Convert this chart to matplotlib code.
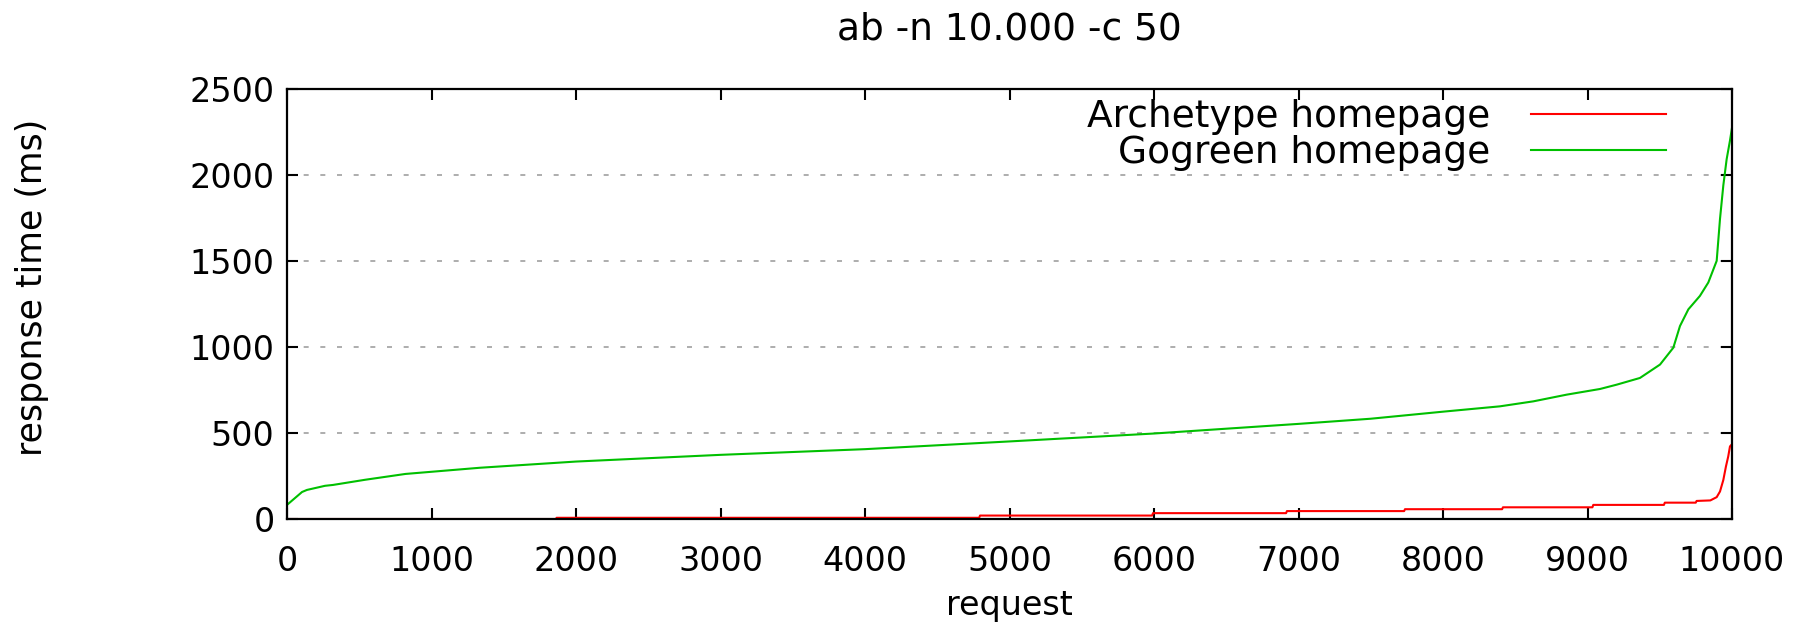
import matplotlib

matplotlib.use("Agg")
import matplotlib.pyplot as plt  # type: ignore

# Sorted response times (request index, ms)
gogreen_req = [0, 104, 138, 263, 318, 540, 820, 1336, 2000, 3000, 4000, 5000,
               6000, 6500, 7000, 7500, 8000, 8394, 8625, 8856, 9087, 9202,
               9363, 9502, 9594, 9640, 9698, 9778, 9836, 9894, 9917, 9940,
               9963, 9986, 10000]
gogreen_ms = [82, 157, 169, 193, 198, 228, 262, 298, 334, 373, 406, 451,
              497, 525, 553, 583, 624, 655, 684, 723, 756, 781,
              820, 898, 996, 1122, 1219, 1297, 1375, 1501, 1745, 1940,
              2092, 2200, 2275]

archetype_req = [0, 1860, 1866, 4790, 4796, 5987, 5993, 6914, 6920, 7731,
                 7737, 8409, 8415, 9034, 9040, 9529, 9535, 9749, 9755, 9850,
                 9894, 9917, 9940, 9958, 9974, 9986, 10000]
archetype_ms = [0, 0, 7, 7, 20, 20, 34, 34, 46, 46,
                57, 57, 68, 68, 82, 82, 95, 95, 105, 108,
                127, 160, 227, 305, 364, 422, 435]

x_ticks = [0, 1000, 2000, 3000, 4000, 5000, 6000, 7000, 8000, 9000, 10000]
y_ticks = [0, 500, 1000, 1500, 2000, 2500]

W, H = 1808, 627
plt.rcParams["font.family"] = ["DejaVu Sans"]

fig = plt.figure(figsize=(W / 100, H / 100), dpi=100)
# axes box in pixels: left 287, right 1732, top 89, bottom 519
fig.subplots_adjust(left=287 / W, right=1732 / W, top=1 - 89 / H, bottom=1 - 519 / H)
ax = fig.add_subplot(111)

ax.plot(archetype_req, archetype_ms, color="#ff0000", lw=1.5,
        label="Archetype homepage", zorder=3)
ax.plot(gogreen_req, gogreen_ms, color="#00c000", lw=1.5,
        label="Gogreen homepage", zorder=3)

ax.set_xlim(0, 10000)
ax.set_ylim(0, 2500)
ax.set_xticks(x_ticks)
ax.set_yticks(y_ticks)

# gnuplot style: inward ticks mirrored on all sides
ax.tick_params(direction="in", length=8, width=1.5, top=True, right=True,
               labelsize=24, colors="black")
ax.tick_params(axis="x", pad=19)
ax.tick_params(axis="y", pad=9)
for s in ax.spines.values():
    s.set_linewidth(1.6)
    s.set_zorder(4)

# dashed horizontal grid
ax.yaxis.grid(True, color="#a0a0a0", lw=1.2, linestyle=(0, (3, 7)))
ax.set_axisbelow(True)

ax.set_xlabel("request", fontsize=24)
ax.xaxis.set_label_coords(0.5, (519 - 605) / 430)
ax.xaxis.label.set_va("center")
ax.set_ylabel("response time (ms)", fontsize=25)
ax.yaxis.set_label_coords((32 - 287) / 1445, (519 - 287) / 430)
ax.yaxis.label.set_va("center")

fig.text((287 + 1732) / 2 / W, 1 - 29 / H, "ab -n 10.000 -c 50",
         fontsize=27, ha="center", va="center")

ax.legend(loc="upper right", bbox_to_anchor=((1670 - 287) / 1445, 0.985),
          frameon=False, markerfirst=False, fontsize=27, handlelength=3.6,
          handletextpad=1.1, labelspacing=0.0, borderpad=0.1,
          borderaxespad=0)

fig.savefig("out.png", dpi=100)
plt.close(fig)
